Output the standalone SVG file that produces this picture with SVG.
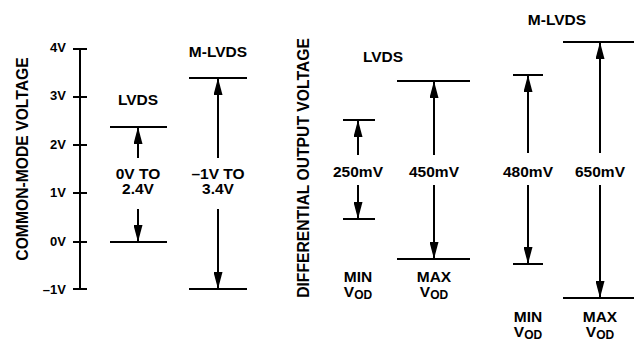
<svg xmlns="http://www.w3.org/2000/svg" width="635" height="343" viewBox="0 0 635 343">
<style>
text{font-family:"Liberation Sans",Arial,sans-serif;font-weight:bold;fill:#000}
.t{font-size:15.5px;text-anchor:middle}
.v{font-size:15.7px;text-anchor:middle}
.ax{font-size:13px;text-anchor:end}
.s{font-size:12px}
line{stroke:#000;stroke-width:2}
</style>
<defs>
<marker id="ah" markerUnits="userSpaceOnUse" markerWidth="17" markerHeight="9" refX="17" refY="4.5" viewBox="0 0 17 9" orient="auto">
<path d="M0,0 L17,4.5 L0,9 Z" fill="#000"/>
</marker>
</defs>
<rect width="635" height="343" fill="#fff"/>

<g id="axis">
<line x1="80" y1="48" x2="80" y2="290"/>
<line x1="73" y1="49" x2="87" y2="49"/>
<line x1="73" y1="97" x2="87" y2="97"/>
<line x1="73" y1="145" x2="87" y2="145"/>
<line x1="73" y1="193" x2="87" y2="193"/>
<line x1="73" y1="242" x2="87" y2="242"/>
<line x1="73" y1="289" x2="87" y2="289"/>
<text class="ax" x="66" y="52">4V</text>
<text class="ax" x="66" y="100">3V</text>
<text class="ax" x="66" y="149">2V</text>
<text class="ax" x="66" y="197">1V</text>
<text class="ax" x="66" y="246">0V</text>
<text class="ax" x="66" y="294">–1V</text>
<text class="v" transform="translate(27.5,159) rotate(-90)">COMMON-MODE VOLTAGE</text>
</g>

<g id="cm-lvds">
<line x1="110" y1="127" x2="167" y2="127"/>
<line x1="110" y1="242" x2="167" y2="242"/>
<text class="t" x="138" y="105">LVDS</text>
<text class="t" x="138" y="179">0V TO</text>
<text class="t" x="138" y="194">2.4V</text>
</g>

<g id="cm-mlvds">
<line x1="189" y1="78" x2="247" y2="78"/>
<line x1="189" y1="289" x2="247" y2="289"/>
<text class="t" x="218" y="57">M-LVDS</text>
<text class="t" x="218" y="179">–1V TO</text>
<text class="t" x="218" y="194">3.4V</text>
</g>

<g id="dv-title">
<text class="v" transform="translate(309,168) rotate(-90)">DIFFERENTIAL OUTPUT VOLTAGE</text>
<text class="t" x="383" y="62">LVDS</text>
<text class="t" x="557" y="25">M-LVDS</text>
</g>

<g id="lvds-min">
<line x1="343" y1="120" x2="375" y2="120"/>
<line x1="343" y1="219" x2="375" y2="219"/>
<text class="t" x="358" y="177">250mV</text>
<text class="t" x="358" y="282">MIN</text>
<text class="t" x="358" y="297">V<tspan class="s" dy="2">OD</tspan></text>
</g>

<g id="lvds-max">
<line x1="397" y1="81" x2="470" y2="81"/>
<line x1="397" y1="259" x2="470" y2="259"/>
<text class="t" x="434" y="177">450mV</text>
<text class="t" x="434" y="282">MAX</text>
<text class="t" x="434" y="297">V<tspan class="s" dy="2">OD</tspan></text>
</g>

<g id="mlvds-min">
<line x1="513" y1="75" x2="543" y2="75"/>
<line x1="513" y1="264" x2="543" y2="264"/>
<text class="t" x="528" y="177">480mV</text>
<text class="t" x="528" y="322">MIN</text>
<text class="t" x="528" y="337">V<tspan class="s" dy="2">OD</tspan></text>
</g>

<g id="mlvds-max">
<line x1="563" y1="42" x2="634" y2="42"/>
<line x1="563" y1="298" x2="634" y2="298"/>
<text class="t" x="600" y="177">650mV</text>
<text class="t" x="600" y="322">MAX</text>
<text class="t" x="600" y="337">V<tspan class="s" dy="2">OD</tspan></text>
</g>

<g id="connectors">
<line x1="138" y1="158" x2="138" y2="127" marker-end="url(#ah)"/>
<line x1="138" y1="209" x2="138" y2="242" marker-end="url(#ah)"/>
<line x1="218" y1="158" x2="218" y2="78" marker-end="url(#ah)"/>
<line x1="218" y1="209" x2="218" y2="289" marker-end="url(#ah)"/>
<line x1="358" y1="155" x2="358" y2="120" marker-end="url(#ah)"/>
<line x1="358" y1="185" x2="358" y2="219" marker-end="url(#ah)"/>
<line x1="434" y1="155" x2="434" y2="81" marker-end="url(#ah)"/>
<line x1="434" y1="185" x2="434" y2="259" marker-end="url(#ah)"/>
<line x1="528" y1="153" x2="528" y2="75" marker-end="url(#ah)"/>
<line x1="528" y1="185" x2="528" y2="264" marker-end="url(#ah)"/>
<line x1="600" y1="153" x2="600" y2="42" marker-end="url(#ah)"/>
<line x1="600" y1="185" x2="600" y2="298" marker-end="url(#ah)"/>
</g>
</svg>
